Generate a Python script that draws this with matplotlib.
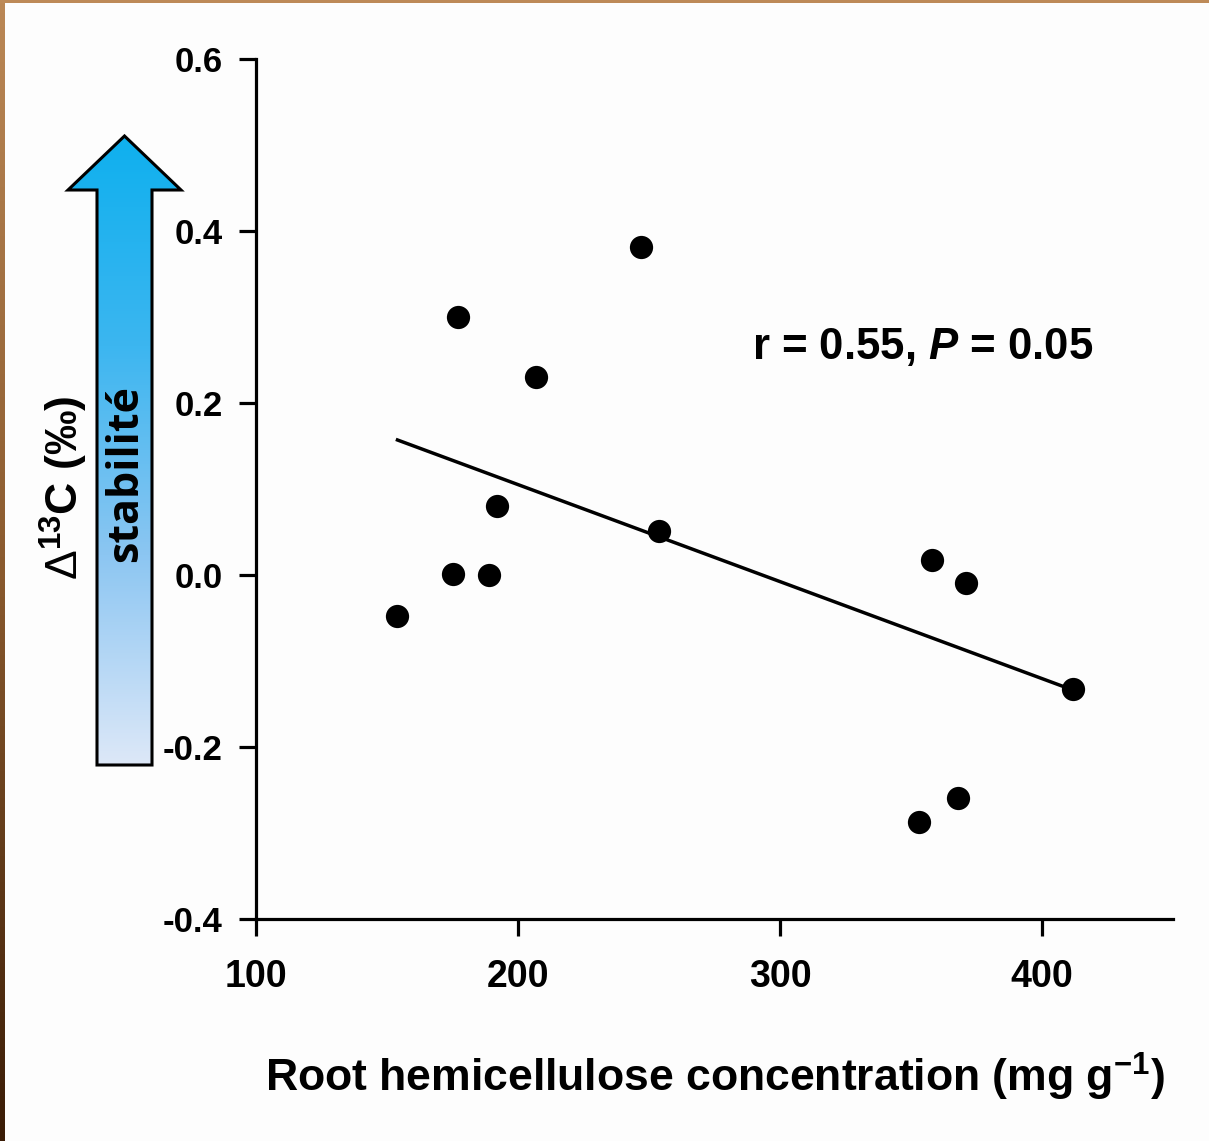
import numpy as np
import matplotlib
matplotlib.use("Agg")
import matplotlib.pyplot as plt
from matplotlib.patches import Polygon
from matplotlib.colors import LinearSegmentedColormap

plt.rcParams["mathtext.fontset"] = "custom"
plt.rcParams["mathtext.rm"] = "Liberation Sans"
plt.rcParams["mathtext.bf"] = "Liberation Sans:bold"
plt.rcParams["mathtext.it"] = "Liberation Sans:italic"
plt.rcParams["mathtext.bfit"] = "Liberation Sans:bold:italic"

# data
hemicellulose = [154, 177, 175, 189, 192, 207, 247, 254, 358, 371, 353, 368, 412]
delta13c = [-0.048, 0.300, 0.001, 0.0, 0.080, 0.230, 0.381, 0.051, 0.017, -0.009, -0.287, -0.259, -0.133]

# fitted line end points (as drawn)
fit_x = [154, 412]
fit_y = [0.157, -0.134]

x_ticks = [100, 200, 300, 400]
y_ticks = [-0.4, -0.2, 0.0, 0.2, 0.4, 0.6]

W, H = 1209, 1141
fig = plt.figure(figsize=(W / 100, H / 100), dpi=100)
fig.patch.set_facecolor("#fdfdfd")

# main axes, placed in pixel positions
x0, x1, y0, y1 = 256, 1173, 59, 919
ax = fig.add_axes([x0 / W, 1 - y1 / H, (x1 - x0) / W, (y1 - y0) / H])
ax.set_facecolor("none")

ax.scatter(hemicellulose, delta13c, s=280, color="black", zorder=3, linewidths=0)
ax.plot(fit_x, fit_y, color="black", lw=2.5, zorder=2)

ax.set_xlim(100, 450)
ax.set_ylim(-0.4, 0.6)
ax.set_xticks(x_ticks)
ax.set_yticks(y_ticks)
ax.set_yticklabels([f"{v:.1f}" for v in y_ticks])
for s in ["top", "right"]:
    ax.spines[s].set_visible(False)
for s in ["left", "bottom"]:
    ax.spines[s].set_linewidth(2.3)
ax.tick_params(direction="out", length=12, width=2.3)
ax.tick_params(axis="y", labelsize=25, pad=12)
ax.tick_params(axis="x", labelsize=27, pad=17)
for lab in ax.get_xticklabels() + ax.get_yticklabels():
    lab.set_fontfamily("Liberation Sans")
    lab.set_fontweight("bold")

ax.set_xlabel("Root hemicellulose concentration (mg g$^{\\mathbf{-1}}$)",
              fontsize=32, fontfamily="Liberation Sans", fontweight="bold",
              labelpad=40)

ax.text(0.541, 0.665, "r = 0.55, $\\mathbfit{P}$ = 0.05", transform=ax.transAxes,
        fontsize=31.5, fontfamily="Liberation Sans", fontweight="bold",
        ha="left", va="center")

# overlay in pixel coordinates for arrow, labels and border
ov = fig.add_axes([0, 0, 1, 1], facecolor="none")
ov.axis("off")

# y label
ov.text(64, 488, "$\\Delta^{\\mathbf{13}}$C (‰)", rotation=90, ha="center", va="center",
        fontsize=32, fontfamily="Liberation Sans", fontweight="bold")

# gradient arrow
arrow_pts = [(97, 765), (97, 190), (68, 190), (124.5, 136), (181, 190),
             (152, 190), (152, 765)]
cmap = LinearSegmentedColormap.from_list(
    "stab", ["#0fb0ee", "#3cb6f0", "#8cc6f2", "#dde8f8"])
grad = np.linspace(0, 1, 256).reshape(-1, 1)
img = ov.imshow(grad, cmap=cmap, aspect="auto", extent=[68, 181, 765, 136],
                zorder=2, interpolation="bilinear")
poly = Polygon(arrow_pts, closed=True, facecolor="none", edgecolor="black",
               lw=2.2, zorder=3, joinstyle="miter")
ov.add_patch(poly)
img.set_clip_path(poly)

ov.text(126, 474, "stabilité", rotation=90, ha="center", va="center",
        fontsize=31, fontfamily="Open Sans", fontweight="bold", zorder=4)

# brown border strips (left and top)
border = LinearSegmentedColormap.from_list("brd", ["#bb8856", "#8a5a2e", "#3a1c06"])
ov.imshow(grad, cmap=border, aspect="auto", extent=[0, 5, H, 0], zorder=5)
ov.fill_between([0, W], 0, 3, color="#bd8a58", zorder=5, lw=0)
ov.set_xlim(0, W)
ov.set_ylim(H, 0)

fig.savefig("out.png", dpi=100, facecolor=fig.get_facecolor())
